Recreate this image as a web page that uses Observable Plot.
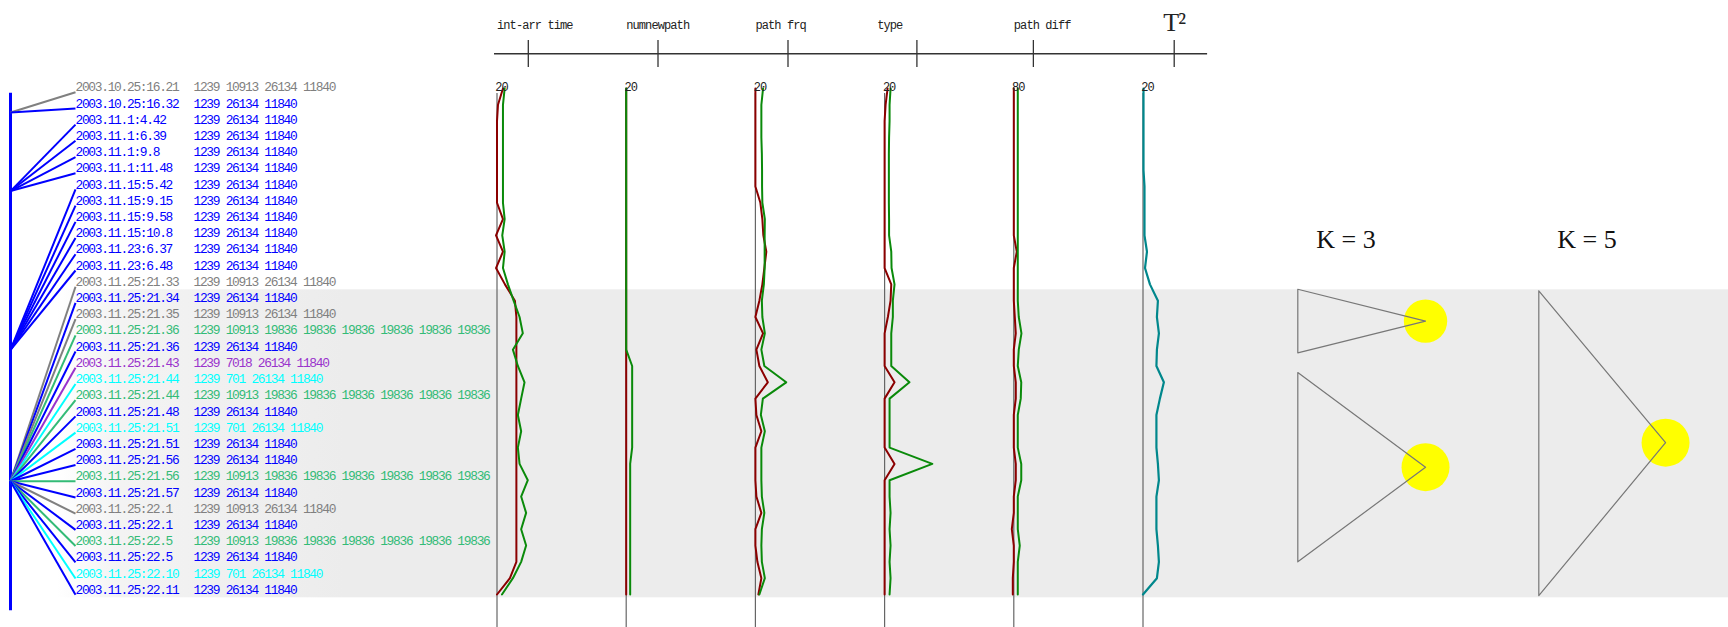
<!DOCTYPE html>
<html><head><meta charset="utf-8">
<script src="https://cdn.jsdelivr.net/npm/d3@7"></script>
<script src="https://cdn.jsdelivr.net/npm/@observablehq/plot@0.6"></script>
<style>
html,body{margin:0;padding:0;background:#fff;}
#chart{position:relative;width:1728px;height:627px;overflow:hidden;}
#chart svg{position:absolute;left:0;top:0;}
</style></head><body><div id="chart"></div>
<script>
// ---------- data ----------
const times = ["2003.10.25:16.21","2003.10.25:16.32","2003.11.1:4.42","2003.11.1:6.39","2003.11.1:9.8","2003.11.1:11.48","2003.11.15:5.42","2003.11.15:9.15","2003.11.15:9.58","2003.11.15:10.8","2003.11.23:6.37","2003.11.23:6.48","2003.11.25:21.33","2003.11.25:21.34","2003.11.25:21.35","2003.11.25:21.36","2003.11.25:21.36","2003.11.25:21.43","2003.11.25:21.44","2003.11.25:21.44","2003.11.25:21.48","2003.11.25:21.51","2003.11.25:21.51","2003.11.25:21.56","2003.11.25:21.56","2003.11.25:21.57","2003.11.25:22.1","2003.11.25:22.1","2003.11.25:22.5","2003.11.25:22.5","2003.11.25:22.10","2003.11.25:22.11"];
const pathTypes = ["1239 10913 26134 11840","1239 26134 11840","1239 10913 19836 19836 19836 19836 19836 19836","1239 7018 26134 11840","1239 701 26134 11840"];
const pathColors = ["#808080","#0000ff","#33bb77","#9933cc","#00ffff"];
const rowPath = [0,1,1,1,1,1,1,1,1,1,1,1,0,1,0,2,1,3,4,2,1,4,1,1,2,1,0,1,2,1,4,1];
const treeNodes = [1.25, 6.1, 15.9, 24];           // branch node rows
const rowNode = [0,0,1,1,1,1,2,2,2,2,2,2,3,3,3,3,3,3,3,3,3,3,3,3,3,3,3,3,3,3,3,3];
const treeSpan = [0.37, 32.3];
const anomalyBand = [12.5, 31.5];

const features = ["int-arr time","numnewpath","path frq","type","path diff","T\u00b2"];
const axisTopLabels = ["20","20","20","20","80","20"];
const headerTickOffset = [31.5, 32, 32.8, 32.5, 19.7, 31.4];
const headerLabelOffset = [0, 0, 0, -7.5, 0];

const intArrRed   = [6,1,0,0,0,0,0,0,6,-1,6,-1,8,18,19.5,19.5,19.5,19.5,19.5,19.5,19.5,19.5,19.5,19.5,19.5,19.5,19.5,19.5,19.5,19.5,13,0];
const intArrGreen = [7.7,6,6,6,6,6,6,6,7.7,5.3,7.7,6,11,16.7,22.7,26,16,21,27.7,24.3,21,24.3,21,22.7,31,24.3,29.3,24.3,29.3,24.3,16,5];
const numNewPathRed   = [0,0,0,0,0,0,0,0,0,0,0,0,0,0,0,0,0,0,0,0,0,0,0,0,0,0,0,0,0,0,0,0];
const numNewPathGreen = [0,0,0,0,0,0,0,0,0,0,0,0,0,0,0,0,0,6,6,6,6,6,6,4,4,4,4,4,4,4,4,4];
const pathFrqRed   = [0,0,0,0,0,0,0,5,7,8,11,9,7,4,0,7.7,1,4,12.5,0,1,6,0,0,0,1,6,0,0,2,6,3];
const pathFrqGreen = [7.7,6,6,6,6.5,6.7,6.7,7,9.5,9.3,9.3,9.3,8.5,6.5,7,9.5,6,9,31,7.5,5.5,9.5,6,6,6,6.5,9,6.5,6,6.5,9.5,4];
const typeRed   = [3,1,0,0,0,0,0,0,0,0,0,0,6.7,6,3.3,0,0,0,10,0,0,0,0,10,0,0,0,0,0,0,0,0];
const typeGreen = [6,5,5,4.5,4.3,4.3,4.3,4.3,4.5,4.5,6.7,7,10,8.3,8.3,6.7,6.7,6.7,25,5,5,5,5,48,5,5,6,5,6,5,6,5];
const pathDiffRed   = [0,0,0,0,0,0,0,0,0,0,3,0,0,0,1,2,0,0,2,2,0,0,0,2,2,0,0,-2,0,0,-1,-1];
const pathDiffGreen = [4,4,4,4,4,4,4,4,4,4,4,4,4,4,5,7.7,5,4,7.5,7,4,4,4,7.5,7.5,4,4,4,6,4,4,4];
const t2 = [0.5,0.5,0.5,0.5,0.5,0.5,1.5,1.5,1.5,1.5,4,2,7,15,14,16,14,13.5,21,17,13.5,13.5,13.5,15,16,13.5,13.5,13.5,15,16,14,0];

const kLabels = ["K = 3","K = 5"];
const clusterPanel = [0, 0, 1];
const clusterTop = [12.3, 17.4, 12.4];
const clusterBottom = [16.2, 29.0, 31.07];
const clusterApexRow = [14.25, 23.2, 21.7];
const clusterApexX = [0.53, 0.53, 0.526];
const clusterR = [21.7, 24, 24];

// ---------- tables ----------
const rowsData = times.map((t, i) => ({row: i, time: t, path: pathTypes[rowPath[i]], node: treeNodes[rowNode[i]]}));
const SPACING = 130;
const panels = [[intArrRed,intArrGreen],[numNewPathRed,numNewPathGreen],[pathFrqRed,pathFrqGreen],[typeRed,typeGreen],[pathDiffRed,pathDiffGreen]];
const redRows = [], greenRows = [];
panels.forEach(([r, g], f) => {
  r.forEach((v, i) => redRows.push({key: f, x: f * SPACING + v, row: i}));
  g.forEach((v, i) => greenRows.push({key: f, x: f * SPACING + v, row: i}));
});
const t2Rows = t2.map((v, i) => ({x: 5 * SPACING + v, row: i}));
const clusters = clusterPanel.map((p, c) => ({c, apexX: p + clusterApexX[c], apex: clusterApexRow[c], r: clusterR[c]}));
const triPts = [];
clusterPanel.forEach((p, c) => {
  triPts.push({c, x: p, y: clusterTop[c]}, {c, x: p + clusterApexX[c], y: clusterApexRow[c]}, {c, x: p, y: clusterBottom[c]}, {c, x: p, y: clusterTop[c]});
});

const chart = document.getElementById("chart");
const mono = "Liberation Mono, DejaVu Sans Mono, monospace";
const serif = "Liberation Serif, DejaVu Serif, serif";

// ---------- plot A: band, tree and labels ----------
const svgA = Plot.plot({
  width: 1728, height: 627, margin: 0,
  style: {background: "transparent", letterSpacing: "-1.3px"},
  x: {domain: [0, 1], range: [10, 75], axis: null},
  y: {domain: [0, 31], range: [86.7, 589.2], axis: null},
  color: {domain: pathTypes, range: pathColors},
  marks: [
    Plot.rect([0], {y1: anomalyBand[0], y2: anomalyBand[1], fill: "url(#bandGrad)"}),
    Plot.ruleX([0], {y1: treeSpan[0], y2: treeSpan[1], stroke: "#0000ff", strokeWidth: 3}),
    Plot.link(rowsData, {x1: 0, y1: "node", x2: 1, y2: "row", stroke: "path", strokeWidth: 2, dy: 5}),
    Plot.text(rowsData, {x: 1, y: "row", text: "time", fill: "path", textAnchor: "start", fontFamily: mono, fontSize: 12.9}),
    Plot.text(rowsData, {x: 1, y: "row", text: "path", fill: "path", textAnchor: "start", dx: 118, fontFamily: mono, fontSize: 12.9})
  ]
});
d3.select(svgA).insert("defs", ":first-child").html('<linearGradient id="bandGrad" gradientUnits="userSpaceOnUse" x1="0" y1="0" x2="1728" y2="0"><stop offset="0" stop-color="#ffffff"/><stop offset="0.033" stop-color="#ffffff"/><stop offset="0.07" stop-color="#f3f3f3"/><stop offset="0.2" stop-color="#ececec"/><stop offset="1" stop-color="#ececec"/></linearGradient>');
chart.appendChild(svgA);

// ---------- plot C: feature lines ----------
const xFeat = {domain: [0, 6 * SPACING], range: [496.5, 1271.7], axis: null};
const svgC = Plot.plot({
  width: 1728, height: 627, margin: 0,
  style: {background: "transparent", letterSpacing: "-1px"},
  x: xFeat,
  y: {domain: [0, 31], range: [88, 594], axis: null},
  marks: [
    Plot.ruleX(features, {x: (d, i) => i * SPACING, y1: 0.31, y2: 33.2, stroke: "#666", strokeWidth: 1.2}),
    Plot.line(redRows, {x: "x", y: "row", z: "key", stroke: "#8b0000", strokeWidth: 2}),
    Plot.line(greenRows, {x: "x", y: "row", z: "key", stroke: "#0a8a0a", strokeWidth: 2}),
    Plot.line(t2Rows, {x: "x", y: "row", stroke: "#00878c", strokeWidth: 2.2}),
    Plot.text(features, {x: (d, i) => i * SPACING, y: 0, text: (d, i) => axisTopLabels[i], textAnchor: "middle", dx: 4.5, dy: -1, fontFamily: mono, fontSize: 12, fill: "#222"})
  ]
});
chart.appendChild(svgC);

// ---------- plot D: clusters ----------
const svgD = Plot.plot({
  width: 1728, height: 627, margin: 0,
  style: {background: "transparent"},
  x: {domain: [0, 2], range: [1297.3, 1779.3], axis: null},
  y: {domain: [0, 31], range: [88, 594], axis: null},
  r: {type: "identity"},
  marks: [
    Plot.dot(clusters, {x: "apexX", y: "apex", r: "r", fill: "#ffff00"}),
    Plot.line(triPts, {x: "x", y: "y", z: "c", stroke: "#777", strokeWidth: 1.2}),
    Plot.text(kLabels, {x: (d, i) => i + 0.2, y: 9.25, text: d => d, fontFamily: serif, fontSize: 26, fill: "#111"})
  ]
});
chart.appendChild(svgD);

// ---------- plot B: header axis ----------
const svgB = Plot.plot({
  width: 1728, height: 75, margin: 0,
  style: {background: "transparent", letterSpacing: "-0.9px"},
  x: xFeat,
  y: {domain: [0, 1], range: [40, 67], axis: null},
  marks: [
    Plot.ruleY([0.49], {x1: -2.5, x2: 715, stroke: "#333", strokeWidth: 1.5}),
    Plot.ruleX(features, {x: (d, i) => i * SPACING + headerTickOffset[i], y1: 0, y2: 1, stroke: "#333", strokeWidth: 1.3}),
    Plot.text(features.slice(0, 5), {x: (d, i) => i * SPACING + headerLabelOffset[i], y: -0.55, text: d => d, textAnchor: "start", fontFamily: mono, fontSize: 12, fill: "#222"}),
    Plot.text(features.slice(5), {x: 5 * SPACING + headerTickOffset[5], y: -0.67, text: d => d, textAnchor: "middle", fontFamily: serif, fontSize: 26, fill: "#222"})
  ]
});
chart.appendChild(svgB);
</script></body></html>
